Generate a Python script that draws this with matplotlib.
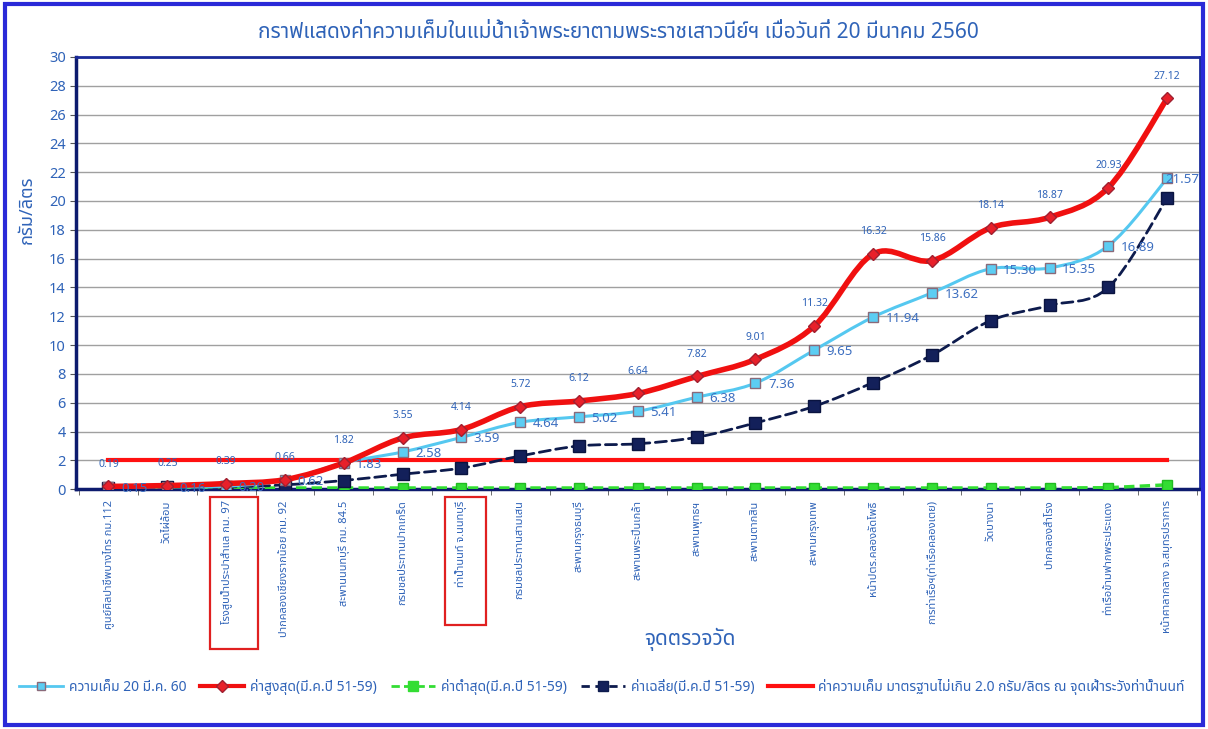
import matplotlib
matplotlib.use("Agg")
import matplotlib.pyplot as plt
from matplotlib import font_manager, ft2font
from matplotlib.patches import Rectangle, PathPatch
from matplotlib.path import Path
from matplotlib.lines import Line2D

# stations along the river, upstream -> river mouth
stations = [
    "ศูนย์ศิลปาชีพบางไทร กม.112",
    "วัดไผ่ล้อม",
    "โรงสูบน้ำประปาสำแล กม. 97",
    "ปากคลองเชียงรากน้อย กม. 92",
    "สะพานนนทบุรี กม. 84.5",
    "กรมชลประทานปากเกร็ด",
    "ท่าน้ำนนท์ จ.นนทบุรี",
    "กรมชลประทานสามเสน",
    "สะพานกรุงธนบุรี",
    "สะพานพระปิ่นเกล้า",
    "สะพานพุทธฯ",
    "สะพานตากสิน",
    "สะพานกรุงเทพ",
    "หน้าปตร.คลองลัดโพธิ์",
    "การท่าเรือฯ(ท่าเรือคลองเตย)",
    "วัดบางนา",
    "ปากคลองสำโรง",
    "ท่าเรือข้ามฟากพระประแดง",
    "หน้าศาลากลาง จ.สมุทรปราการ",
]

salinity_today = [0.15, 0.16, 0.20, 0.62, 1.83, 2.58, 3.59, 4.64, 5.02, 5.41,
                  6.38, 7.36, 9.65, 11.94, 13.62, 15.30, 15.35, 16.89, 21.57]
max_51_59 = [0.19, 0.25, 0.39, 0.66, 1.82, 3.55, 4.14, 5.72, 6.12, 6.64,
             7.82, 9.01, 11.32, 16.32, 15.86, 18.14, 18.87, 20.93, 27.12]
min_51_59 = [0.08, 0.08, 0.08, 0.08, 0.08, 0.08, 0.08, 0.08, 0.08, 0.08,
             0.08, 0.08, 0.08, 0.08, 0.08, 0.08, 0.08, 0.10, 0.30]
avg_51_59 = [0.10, 0.12, 0.15, 0.30, 0.60, 1.04, 1.46, 2.30, 3.00, 3.15,
             3.60, 4.60, 5.75, 7.40, 9.30, 11.70, 12.75, 14.00, 20.20]
standard = [2.0] * len(stations)

title = "กราฟแสดงค่าความเค็มในแม่น้ำเจ้าพระยาตามพระราชเสาวนีย์ฯ เมื่อวันที่ 20 มีนาคม 2560"
legend_labels = [
    "ความเค็ม 20 มี.ค. 60",
    "ค่าสูงสุด(มี.ค.ปี 51-59)",
    "ค่าต่ำสุด(มี.ค.ปี 51-59)",
    "ค่าเฉลี่ย(มี.ค.ปี 51-59)",
    "ค่าความเค็ม มาตรฐานไม่เกิน 2.0 กรัม/ลิตร ณ จุดเฝ้าระวังท่าน้ำนนท์",
]


def thai_font():
    # pick an installed family that actually has Thai glyphs
    seen = []
    for f in font_manager.fontManager.ttflist:
        try:
            cmap = ft2font.FT2Font(f.fname).get_charmap()
        except Exception:
            continue
        if 0x0E01 in cmap:
            seen.append(f.name)
    for pref in ["Tahoma", "Noto Sans Thai", "Noto Sans Thai UI", "Loma", "Garuda"]:
        if pref in seen:
            return pref
    return seen[0] if seen else "DejaVu Sans"


def smooth_line(ax, xs, ys, **kw):
    # Excel-style smoothed line: cubic bezier segments through the points
    verts = [(xs[0], ys[0])]
    codes = [Path.MOVETO]
    n = len(xs)
    for i in range(n - 1):
        x0, y0 = (xs[i - 1], ys[i - 1]) if i > 0 else (xs[i], ys[i])
        x1, y1 = xs[i], ys[i]
        x2, y2 = xs[i + 1], ys[i + 1]
        x3, y3 = (xs[i + 2], ys[i + 2]) if i + 2 < n else (x2, y2)
        verts += [(x1 + (x2 - x0) / 6, y1 + (y2 - y0) / 6),
                  (x2 - (x3 - x1) / 6, y2 - (y3 - y1) / 6),
                  (x2, y2)]
        codes += [Path.CURVE4] * 3
    ax.add_patch(PathPatch(Path(verts, codes), fill=False, capstyle="round", **kw))


plt.rcParams["font.family"] = [thai_font(), "DejaVu Sans"]

BLUE_TXT = "#2f63b8"
x = list(range(len(stations)))

fig = plt.figure(figsize=(12.08, 7.29), dpi=100)
ax = fig.add_axes([0.063, 0.329, 0.930, 0.593])

ax.yaxis.grid(True, color="#a0a0a0", lw=1)
ax.set_axisbelow(True)

ax.plot(x, standard, color="#ff1010", lw=3, zorder=2)
ax.plot(x, min_51_59, color="#33dd33", lw=2.5, ls=(0, (3, 1.5)), marker="s", ms=7,
        mfc="#33dd33", mec="#22bb22", zorder=3)
smooth_line(ax, x, avg_51_59, edgecolor="#0d1b4d", lw=2, ls=(0, (4, 2)), zorder=4)
ax.plot(x, avg_51_59, ls="none", marker="s", ms=8, mfc="#13205a", mec="#0a1440", zorder=4)
smooth_line(ax, x, salinity_today, edgecolor="#55c8f0", lw=2.2, zorder=5)
ax.plot(x, salinity_today, ls="none", marker="s", ms=7, mfc="#5ccdf3", mec="#8a6a7a",
        mew=1, zorder=5)
smooth_line(ax, x, max_51_59, edgecolor="#f01010", lw=4, zorder=6)
ax.plot(x, max_51_59, ls="none", marker="D", ms=6, mfc="#e8202a", mec="#a02030", zorder=6)

for xi, v in zip(x, max_51_59):
    ax.annotate(f"{v:.2f}", (xi, v), xytext=(0, 12), textcoords="offset points",
                ha="center", va="bottom", fontsize=7.5, color=BLUE_TXT, zorder=7)
for xi, v in zip(x, salinity_today):
    dx = 9 if xi < len(x) - 1 else -1
    ax.annotate(f"{v:.2f}", (xi, v), xytext=(dx, -1), textcoords="offset points",
                ha="left", va="center", fontsize=9.5, color="#3d6fc0", zorder=7)

ax.set_xlim(-0.55, len(stations) - 0.45)
ax.set_ylim(0, 30)
ax.set_yticks(range(0, 31, 2))
ax.set_xticks(x)
ax.set_xticks([i - 0.5 for i in range(len(stations) + 1)], minor=True)
ax.set_xticklabels(stations, rotation=90, fontsize=8, color=BLUE_TXT)
ax.tick_params(axis="x", which="major", length=0, pad=8)
ax.tick_params(axis="x", which="minor", length=4, color="#555555")
ax.tick_params(axis="y", length=4, labelsize=10.5, labelcolor=BLUE_TXT, color="#555555")

for side in ["left", "bottom"]:
    ax.spines[side].set_color("#0d1b6e")
    ax.spines[side].set_linewidth(2.5)
for side in ["top", "right"]:
    ax.spines[side].set_color("#1a2a9a")
    ax.spines[side].set_linewidth(2)

ax.set_ylabel("กรัม/ลิตร", fontsize=13, color=BLUE_TXT, fontweight="bold")
ax.yaxis.set_label_coords(-0.036, 0.646)
ax.set_xlabel("จุดตรวจวัด", fontsize=15, color=BLUE_TXT, fontweight="bold")
ax.xaxis.set_label_coords(0.546, -0.32)
fig.text(0.512, 0.955, title, ha="center", va="center", fontsize=15,
         color=BLUE_TXT, fontweight="bold")

# red boxes around the two highlighted stations
for (x0, y0, w, h) in [(210, 497, 48, 152), (445, 497, 41, 128)]:
    fig.add_artist(Rectangle((x0 / 1208, 1 - (y0 + h) / 729), w / 1208, h / 729,
                             transform=fig.transFigure, fill=False,
                             edgecolor="#e02020", lw=1.6))

handles = [
    Line2D([], [], color="#55c8f0", lw=2, marker="s", ms=6, mfc="#5ccdf3", mec="#8a6a7a"),
    Line2D([], [], color="#f01010", lw=3, marker="D", ms=6, mfc="#e8202a", mec="#a02030"),
    Line2D([], [], color="#33dd33", lw=2, ls=(0, (3, 1.5)), marker="s", ms=7, mfc="#33dd33"),
    Line2D([], [], color="#0d1b4d", lw=2, ls=(0, (3, 2)), marker="s", ms=7, mfc="#13205a"),
    Line2D([], [], color="#ff1010", lw=3),
]
leg = fig.legend(handles, legend_labels, loc="lower left", bbox_to_anchor=(0.005, 0.03),
                 ncol=5, frameon=False, fontsize=10, handlelength=3.2,
                 columnspacing=1.0, handletextpad=0.4)
for t in leg.get_texts():
    t.set_color(BLUE_TXT)

# blue frame around the whole picture
fig.add_artist(Rectangle((0.004, 0.006), 0.992, 0.988, transform=fig.transFigure,
                         fill=False, edgecolor="#2a2ad8", lw=3))

fig.savefig("out.png", dpi=100)
